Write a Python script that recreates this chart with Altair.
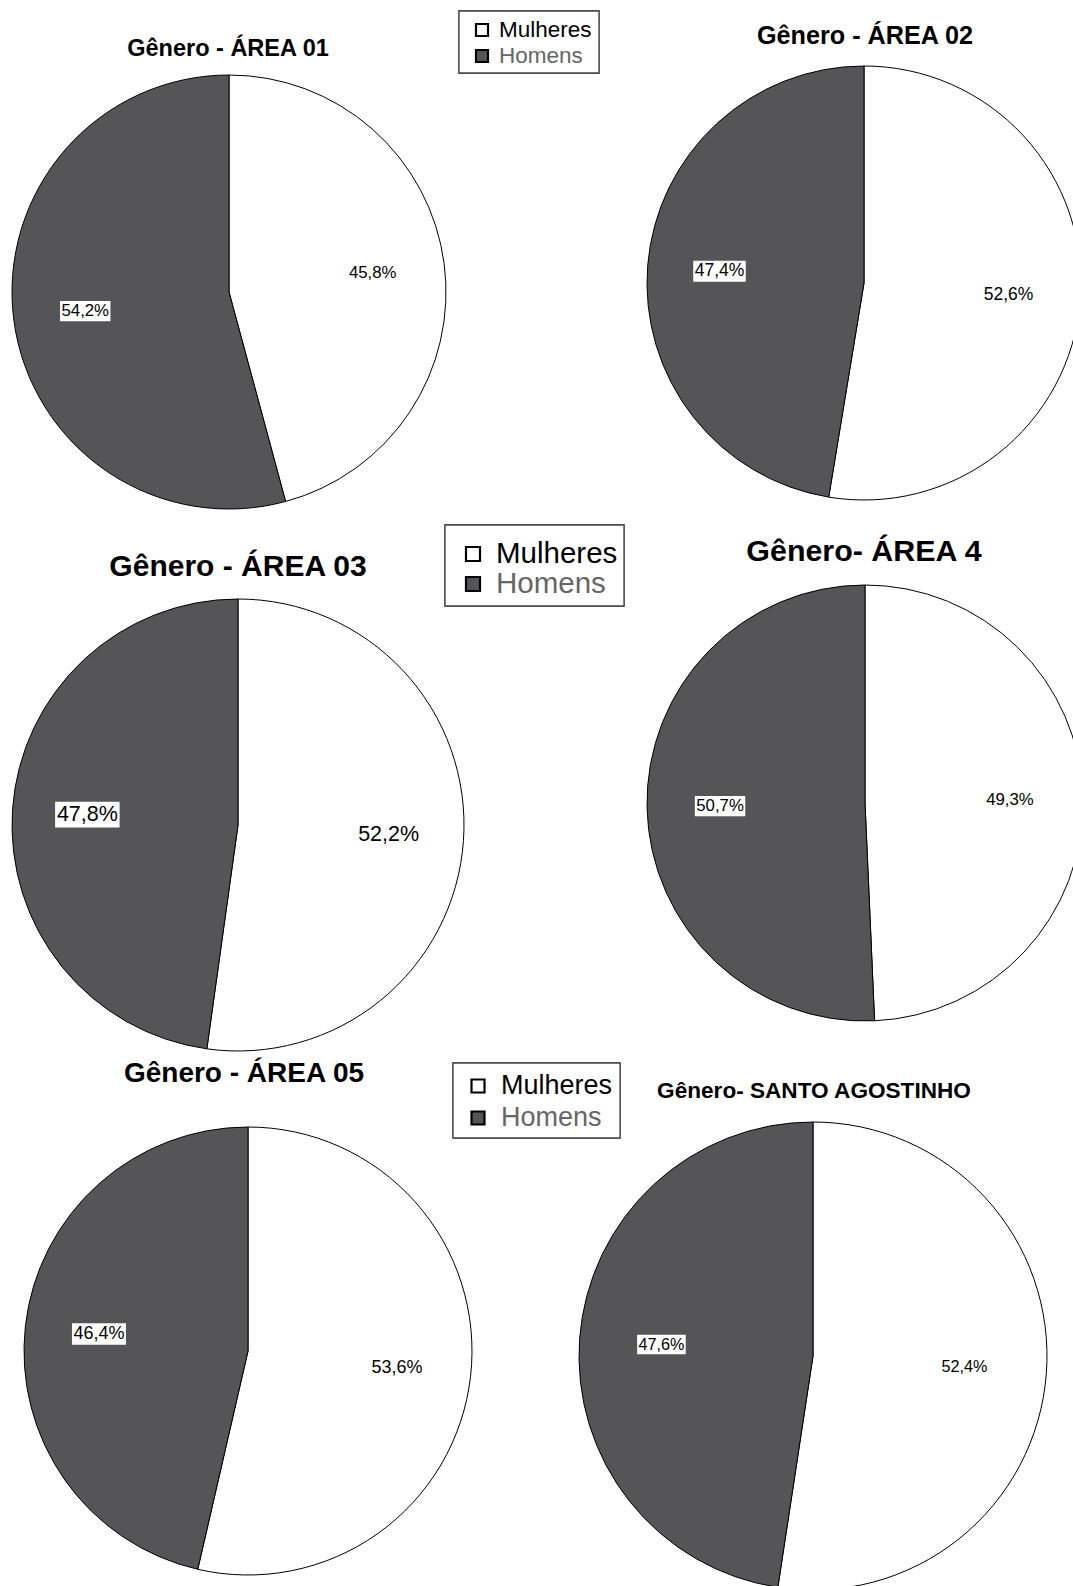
import altair as alt
import pandas as pd

# ---------------- data ----------------
areas = ["ÁREA 01", "ÁREA 02", "ÁREA 03", "ÁREA 4", "ÁREA 05", "SANTO AGOSTINHO"]
titles = ["Gênero - ÁREA 01", "Gênero - ÁREA 02", "Gênero - ÁREA 03",
          "Gênero- ÁREA 4", "Gênero - ÁREA 05", "Gênero- SANTO AGOSTINHO"]
genders = ["Mulheres", "Homens"]
mulheres = [45.8, 52.6, 52.2, 49.3, 53.6, 52.4]
homens = [54.2, 47.4, 47.8, 50.7, 46.4, 47.6]
legend_labels = ["Mulheres", "Homens"]

rows = []
for a, m, h in zip(areas, mulheres, homens):
    for k, (g, v) in enumerate(zip(genders, [m, h])):
        rows.append({"area": a, "genero": g, "ord": k, "valor": v,
                     "rotulo": f"{v:.1f}".replace(".", ",") + "%"})
df = pd.DataFrame(rows)
title_df = pd.DataFrame({"area": areas, "titulo": titles})
legend_df = pd.DataFrame({"genero": legend_labels, "ord": list(range(len(legend_labels)))})

# ---------------- layout / styles ----------------
FILL = "#555558"
FONT = "Liberation Sans"
color_scale = alt.Scale(domain=genders, range=["#ffffff", FILL])

pie_layout = [
    dict(cx=229, cy=292, r=217, lr=145, fs=16.8, tx=228, ty=49, tfs=23.5),
    dict(cx=864, cy=283, r=217, lr=145, fs=17.5, tx=865, ty=36, tfs=25.2),
    dict(cx=238, cy=825, r=226, lr=151, fs=21.5, tx=238, ty=567, tfs=30),
    dict(cx=865, cy=803, r=218, lr=145, fs=16.8, tx=864, ty=552, tfs=30.4),
    dict(cx=248, cy=1351, r=224, lr=150, fs=18, tx=244, ty=1074, tfs=28),
    dict(cx=813, cy=1356, r=234, lr=152, fs=16.2, tx=814, ty=1091, tfs=22.6),
]

legend_layout = [
    dict(x0=459, x1=599, y0=11, y1=73, sx=482, sy=30, step=26, ss=12, txt=499, fs=22.5),
    dict(x0=445, x1=624, y0=525, y1=606, sx=473, sy=554, step=30, ss=14, txt=496, fs=29.5),
    dict(x0=453, x1=620, y0=1063, y1=1138, sx=478, sy=1086, step=32, ss=13, txt=501, fs=27),
]

layers = []
base = alt.Chart(df)

for a, L in zip(areas, pie_layout):
    sub = base.transform_filter(alt.datum.area == a)
    pie = sub.mark_arc(stroke="black", strokeWidth=1).encode(
        theta=alt.Theta("valor:Q", stack=True),
        color=alt.Color("genero:N", scale=color_scale, legend=None),
        order=alt.Order("ord:Q"),
        x=alt.value(L["cx"]), y=alt.value(L["cy"]), radius=alt.value(L["r"]),
    )
    w = 3.0 * L["fs"]
    h = 1.2 * L["fs"]
    lab = sub.transform_joinaggregate(total="sum(valor)").transform_window(
        cum="sum(valor)", sort=[alt.SortField("ord")], frame=[None, 0]
    ).transform_calculate(
        ang="2*PI*(datum.cum - datum.valor/2)/datum.total"
    ).transform_calculate(
        lx=f"{L['cx']} + {L['lr']}*sin(datum.ang)",
        ly=f"{L['cy']} - {L['lr']}*cos(datum.ang)",
    ).transform_calculate(
        bx1=f"datum.lx - {w/2}", bx2=f"datum.lx + {w/2}",
        by1=f"datum.ly - {h/2}", by2=f"datum.ly + {h/2}",
    )
    bg = lab.mark_rect(color="white").encode(
        x=alt.X("bx1:Q", scale=None, axis=None), x2="bx2:Q",
        y=alt.Y("by1:Q", scale=None, axis=None), y2="by2:Q",
    )
    txt = lab.mark_text(font=FONT, fontSize=L["fs"], color="black",
                        align="center", baseline="middle").encode(
        x=alt.X("lx:Q", scale=None, axis=None),
        y=alt.Y("ly:Q", scale=None, axis=None),
        text="rotulo:N",
    )
    title = alt.Chart(title_df).transform_filter(alt.datum.area == a).mark_text(
        font=FONT, fontSize=L["tfs"], fontWeight="bold", color="black",
        align="center", baseline="middle"
    ).encode(text="titulo:N", x=alt.value(L["tx"]), y=alt.value(L["ty"]))
    layers += [pie, bg, txt, title]

for G in legend_layout:
    frame = alt.Chart(legend_df).mark_rect(fill="white", stroke="#444444", strokeWidth=1.3).encode(
        x=alt.value(G["x0"]), x2=alt.value(G["x1"]), y=alt.value(G["y0"]), y2=alt.value(G["y1"])
    )
    lg = alt.Chart(legend_df).transform_calculate(
        ly=f"{G['sy']} + datum.ord*{G['step']}"
    )
    sq = lg.mark_square(size=G["ss"] ** 2, stroke="black", strokeWidth=2.2,
                        opacity=1, fillOpacity=1).encode(
        x=alt.value(G["sx"]),
        y=alt.Y("ly:Q", scale=None, axis=None),
        color=alt.Color("genero:N", scale=color_scale, legend=None),
    )
    lt = lg.mark_text(font=FONT, fontSize=G["fs"], align="left", baseline="middle").encode(
        x=alt.value(G["txt"]),
        y=alt.Y("ly:Q", scale=None, axis=None),
        text="genero:N",
        color=alt.condition(alt.datum.genero == "Homens", alt.value("#666666"), alt.value("black")),
    )
    layers += [frame, sq, lt]

chart = alt.layer(*layers).properties(
    width=1073, height=1586, padding=0, autosize="none", background="white"
).configure_view(stroke=None)

chart.save("out.html", embed_options={"renderer": "svg", "actions": False})
